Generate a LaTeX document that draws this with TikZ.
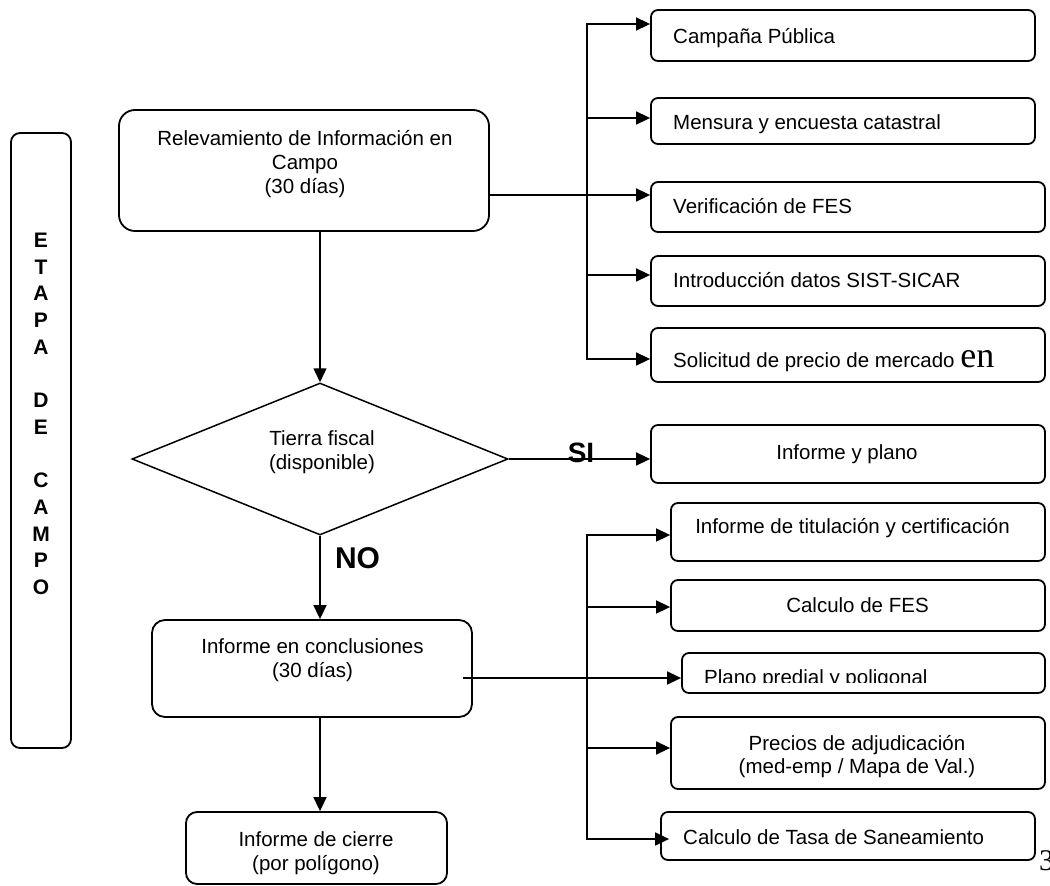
\documentclass[tikz,border=0pt]{standalone}
\usepackage{fontspec}
\setmainfont{Liberation Sans}
\newfontfamily\serifen{Liberation Serif}
\usetikzlibrary{arrows.meta,shapes.geometric}
\begin{document}
\begin{tikzpicture}[x=1pt,y=-1pt,
  box/.style={draw, line width=1.8pt, inner sep=0pt},
  txt/.style={inner sep=0pt, font=\fontsize{20.5}{24.5}\selectfont},
  bigb/.style={inner sep=0pt, font=\fontsize{21}{26}\selectfont\bfseries},
  arr/.style={-{Triangle[length=14pt,width=13pt]}, line width=1.6pt},
  ln/.style={line width=1.6pt}]
\useasboundingbox (0,0) rectangle (1050,886);

% left stage box
\node[box, rounded corners=9pt, minimum width=60pt, minimum height=615pt] (etapa) at (41,440.5) {};
\foreach \k/\l [count=\i] in {0/E,1/T,2/A,3/P,4/A,6/D,7/E,9/C,10/A,11/M,12/P,13/O}
  \node[bigb, anchor=base] (et\i) at (41,{247.5+26.7*\k}) {\l};

% main column
\node[box, rounded corners=16pt, minimum width=370pt, minimum height=121pt] (relev) at (304,170.5) {};
\node[txt, anchor=base] (relevA) at (305,145) {Relevamiento de Información en};
\node[txt, anchor=base] (relevB) at (305,169) {Campo};
\node[txt, anchor=base] (relevC) at (305,193) {(30 días)};

\node[diamond, draw, line width=1.5pt, aspect=2.47, minimum width=376pt, minimum height=152pt, inner sep=0pt] (dec) at (320,459) {};
\node[txt, anchor=base] (decA) at (322,445) {Tierra fiscal};
\node[txt, anchor=base] (decB) at (322,469) {(disponible)};

\node[inner sep=0pt, anchor=base, font=\fontsize{30}{34}\selectfont\bfseries] (no) at (357.5,568) {NO};
\node[inner sep=0pt, anchor=base, font=\fontsize{28}{32}\selectfont\bfseries] (si) at (581,462) {SI};

\node[box, rounded corners=13pt, minimum width=320pt, minimum height=97pt] (concl) at (312,668.5) {};
\node[txt, anchor=base] (conclA) at (312.5,653) {Informe en conclusiones};
\node[txt, anchor=base] (conclB) at (312.5,677) {(30 días)};

\node[box, rounded corners=11pt, minimum width=261pt, minimum height=72pt] (cierre) at (316.5,848) {};
\node[txt, anchor=base] (cierreA) at (316,846) {Informe de cierre};
\node[txt, anchor=base] (cierreB) at (316,870) {(por polígono)};

% upper right boxes
\node[box, rounded corners=7pt, minimum width=384pt, minimum height=51pt] (camp) at (843,35.5) {};
\node[txt, anchor=base west] (campT) at (673,43) {Campaña Pública};
\node[box, rounded corners=7pt, minimum width=384pt, minimum height=46pt] (mens) at (843,121) {};
\node[txt, anchor=base west] (mensT) at (673,129) {Mensura y encuesta catastral};
\node[box, rounded corners=7pt, minimum width=394pt, minimum height=50pt] (verif) at (848,207) {};
\node[txt, anchor=base west] (verifT) at (673,213) {Verificación de FES};
\node[box, rounded corners=7pt, minimum width=394pt, minimum height=50pt] (intro) at (848,281) {};
\node[txt, anchor=base west] (introT) at (673,287) {Introducción datos SIST-SICAR};
\node[box, rounded corners=7pt, minimum width=394pt, minimum height=54pt] (solic) at (848,355) {};
\node[txt, anchor=base west] (solicT) at (673,367) {Solicitud de precio de mercado {\serifen\fontsize{36}{40}\selectfont en}};

\node[box, rounded corners=7pt, minimum width=394pt, minimum height=58pt] (plano) at (848,454) {};
\node[txt, anchor=base] (planoT) at (847,459) {Informe y plano};

% lower right boxes
\node[box, rounded corners=7pt, minimum width=374pt, minimum height=58pt] (titul) at (858,532) {};
\node[txt, anchor=base] (titulT) at (852.5,533) {Informe de titulación y certificación};
\node[box, rounded corners=7pt, minimum width=374pt, minimum height=51pt] (cfes) at (858,605.5) {};
\node[txt, anchor=base] (cfesT) at (857.5,612) {Calculo de FES};
\node[box, rounded corners=7pt, minimum width=363pt, minimum height=40pt] (pplano) at (863.5,673) {};
\begin{scope}
  \clip (690,655) rectangle (1040,682.5);
  \node[txt, anchor=base west] (pplanoT) at (704,684) {Plano predial y poligonal};
\end{scope}
\node[box, rounded corners=7pt, minimum width=374pt, minimum height=72pt] (precios) at (858,753) {};
\node[txt, anchor=base] (preciosA) at (857,750) {Precios de adjudicación};
\node[txt, anchor=base] (preciosB) at (857,773) {(med-emp / Mapa de Val.)};
\node[box, rounded corners=7pt, minimum width=374pt, minimum height=48pt] (tasa) at (848,836) {};
\node[txt, anchor=base west] (tasaT) at (683,844) {Calculo de Tasa de Saneamiento};

\node[inner sep=0pt, anchor=base west, font=\serifen\fontsize{30}{34}\selectfont] (pnum) at (1039,870) {3};

% connectors main column
\draw[arr] (dec.north |- relev.south) -- (dec.north);
\draw[arr] (dec.south) -- (dec.south |- concl.north);
\draw[arr] (dec.south |- concl.south) -- (dec.south |- cierre.north);
\draw[arr] (dec.east) -- (dec.east -| plano.west);

% upper fan
\coordinate (utrunk) at (587,195);
\draw[arr] ([yshift=-24.5pt]relev.east) -- ([yshift=12pt]verif.west);
\draw[arr] (utrunk) |- ([yshift=11.5pt]camp.west);
\draw[arr] (utrunk) |- ([yshift=3pt]mens.west);
\draw[arr] (utrunk) |- ([yshift=6pt]intro.west);
\draw[arr] (utrunk) |- ([yshift=-4pt]solic.west);

% lower fan
\coordinate (ltrunk) at (587,678);
\draw[arr] ([xshift=-10pt,yshift=-9.5pt]concl.east) -- ([yshift=-5pt]pplano.west);
\draw[arr] (ltrunk) |- ([yshift=-3pt]titul.west);
\draw[arr] (ltrunk) |- ([yshift=-1.5pt]cfes.west);
\draw[arr] (ltrunk) |- ([yshift=5pt]precios.west);
\draw[arr] (ltrunk) |- ([xshift=9pt,yshift=-3pt]tasa.west);
\end{tikzpicture}
\end{document}
